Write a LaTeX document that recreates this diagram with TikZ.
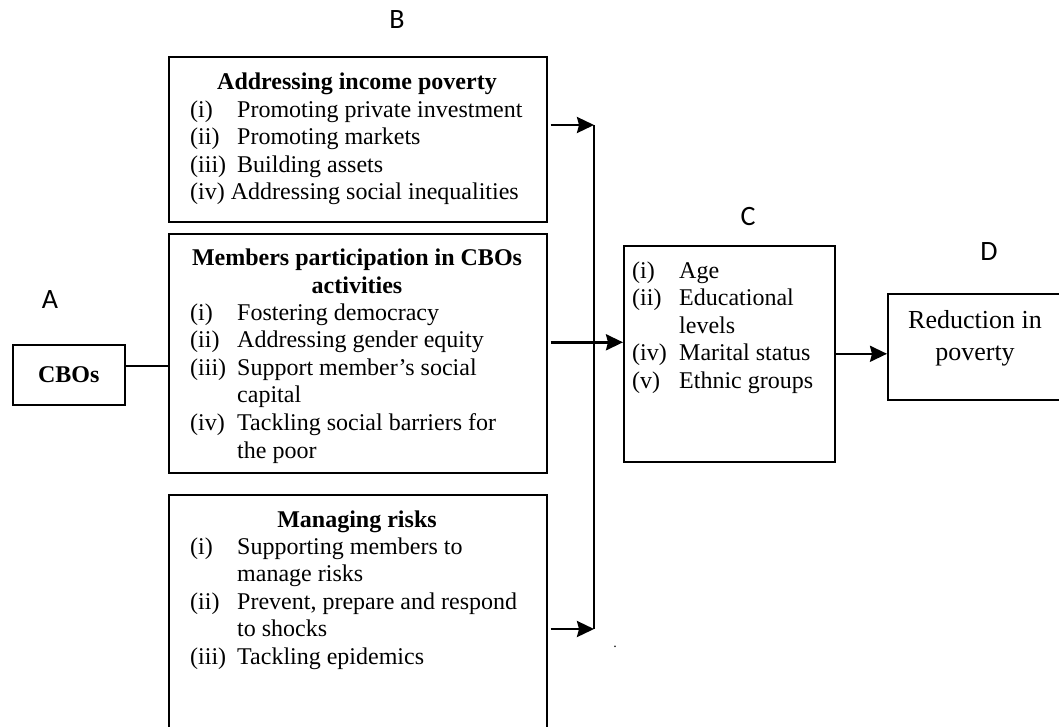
\documentclass[tikz,border=0pt]{standalone}
\usepackage{fontspec}
\setmainfont{Liberation Serif}
\newfontfamily\tagfont{Carlito}
\usetikzlibrary{arrows.meta,positioning,calc}
\tikzset{
  framebox/.style={
    draw=black,
    line width=1.6pt,
    anchor=north west,
    inner sep=0pt,
    align=center,
    font=\fontsize{24}{27.6}\selectfont
  },
  itemlist/.style={
    anchor=base west,
    inner sep=0pt,
    font=\fontsize{24}{27.6}\selectfont
  },
  boxtitle/.style={
    anchor=base,
    inner sep=0pt,
    font=\fontsize{24}{28}\selectfont\bfseries
  },
  lettertag/.style={inner sep=0pt, font=\fontsize{28}{32}\selectfont\tagfont},
  flowline/.style={line width=2pt},
  flowarrow/.style={-{Stealth[length=17pt,width=16pt,inset=2pt]}, line width=2.6pt}
}

\begin{document}
\begin{tikzpicture}[x=1pt,y=-1pt]
  \useasboundingbox (0,0) rectangle (1059,726);
  \node[lettertag] (tagA) at (50,300) {A};
  \node[lettertag] (tagB) at (397,20) {B};
  \node[lettertag] (tagC) at (748,217) {C};
  \node[lettertag] (tagD) at (989,252) {D};

  \node[framebox,minimum width=112pt,minimum height=60pt] (cbos) at (12,344) {\bfseries CBOs};

  \node[framebox,minimum width=378pt,minimum height=165pt] (income) at (168,56) {};
  \node[boxtitle] (incomeTitle) at (357,89) {Addressing income poverty};
  \node[itemlist] (incomeList) at (190,117) {\begin{tabular}[t]{@{}p{47pt}@{}l@{}}
    (i) & Promoting private investment\\
    (ii) & Promoting markets\\
    (iii) & Building assets\\
    \multicolumn{2}{@{}l@{}}{(iv) Addressing social inequalities}
  \end{tabular}};

  \node[framebox,minimum width=378pt,minimum height=239pt] (members) at (168,233) {};
  \node[boxtitle] (membersTitle) at (357,265) {\begin{tabular}[t]{@{}c@{}}
    Members participation in CBOs\\ activities\end{tabular}};
  \node[itemlist] (membersList) at (190,320) {\begin{tabular}[t]{@{}p{47pt}@{}l@{}}
    (i) & Fostering democracy\\
    (ii) & Addressing gender equity\\
    (iii) & Support member’s social\\
    & capital\\
    (iv) & Tackling social barriers for\\
    & the poor
  \end{tabular}};

  \node[framebox,minimum width=378pt,minimum height=240pt] (risks) at (168,494) {};
  \node[boxtitle] (risksTitle) at (357,527) {Managing risks};
  \node[itemlist] (risksList) at (190,554) {\begin{tabular}[t]{@{}p{47pt}@{}l@{}}
    (i) & Supporting members to\\
    & manage risks\\
    (ii) & Prevent, prepare and respond\\
    & to shocks\\
    (iii) & Tackling epidemics
  \end{tabular}};

  \node[framebox,minimum width=211pt,minimum height=216pt] (factors) at (623,245) {};
  \node[itemlist] (factorsList) at (632,278) {\begin{tabular}[t]{@{}p{47pt}@{}l@{}}
    (i) & Age\\
    (ii) & Educational\\
    & levels\\
    (iv) & Marital status\\
    (v) & Ethnic groups
  \end{tabular}};

  \node[framebox,minimum width=175pt,minimum height=106pt] (reduction) at (887,293) {};
  \node[boxtitle,font=\fontsize{26}{32}\selectfont] (reductionText) at (975,328) {\begin{tabular}[t]{@{}c@{}}
    Reduction in\\ poverty\end{tabular}};

  \node[inner sep=0pt,font=\fontsize{14}{14}\selectfont] (stray) at (615,647) {.};

  \coordinate (topJoin) at (594,125);
  \coordinate (lowJoin) at (594,629);

  \draw[flowline] ([yshift=9pt]cbos.east) -- ([yshift=9pt]cbos.east -| members.west);
  \draw[flowarrow,shorten <=3pt] (income.east |- topJoin) -- (topJoin);
  \draw[flowarrow,shorten <=3pt] (risks.east |- lowJoin) -- (lowJoin);
  \draw[flowline] (topJoin) -- (lowJoin);
  \draw[flowarrow,shorten <=3pt] ([yshift=11pt]members.east) -- ([yshift=11pt]members.east -| factors.west);
  \draw[flowarrow] (factors.east) -- (factors.east -| reduction.west);
\end{tikzpicture}
\end{document}
